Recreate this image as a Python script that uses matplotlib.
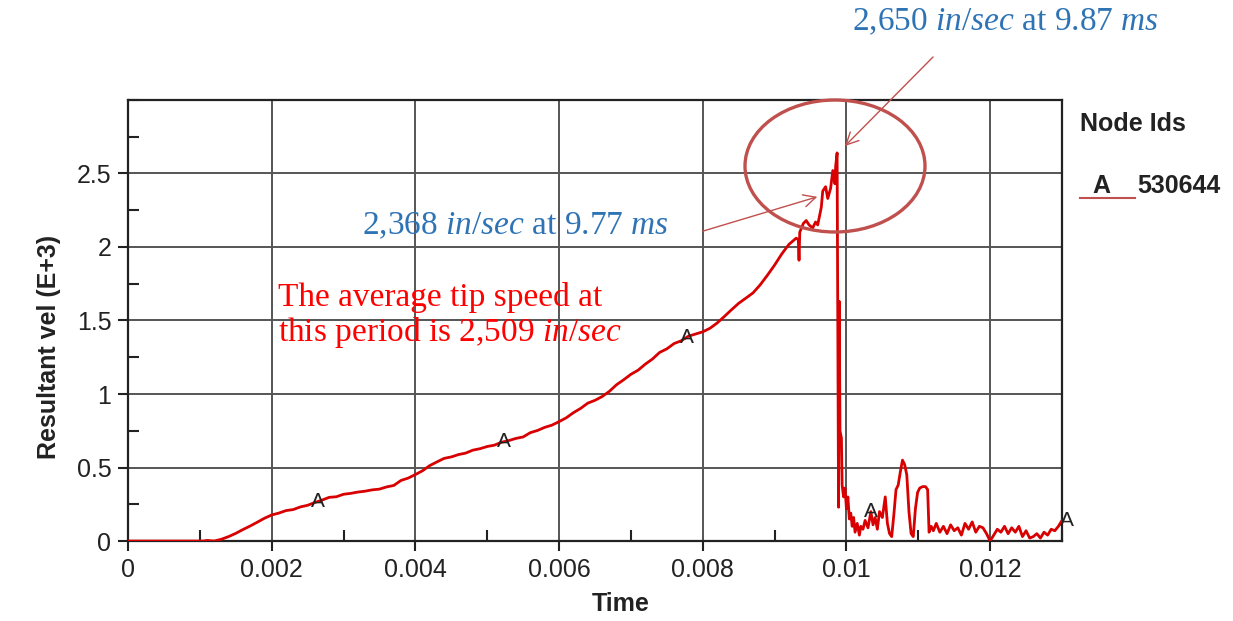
import numpy as np
import matplotlib
matplotlib.use("Agg")
import matplotlib.pyplot as plt
from matplotlib.patches import Ellipse, FancyArrowPatch
from matplotlib.lines import Line2D
from matplotlib.ticker import MultipleLocator

# ==============================================================
# Datos (tiempo en s, velocidad en E+3 in/sec)
# ==============================================================
time_rise = [0.0, 0.00105, 0.0011, 0.0012, 0.0013, 0.0014, 0.0015, 0.0016, 0.0017,
             0.0018, 0.0019, 0.0020, 0.0021, 0.0022, 0.0023, 0.0024, 0.0025, 0.0026,
             0.0027, 0.0028, 0.0029, 0.0030, 0.0031, 0.0032, 0.0033, 0.0034, 0.0035,
             0.0036, 0.0037, 0.0038, 0.0039, 0.0040, 0.0041, 0.0042, 0.0043, 0.0044,
             0.0045, 0.0046, 0.0047, 0.0048, 0.0049, 0.0050, 0.0051, 0.0052, 0.0053,
             0.0054, 0.0055, 0.0056, 0.0057, 0.0058, 0.0059, 0.0060, 0.0061, 0.0062,
             0.0063, 0.0064, 0.0065, 0.0066, 0.0067, 0.0068, 0.0069, 0.0070, 0.0071,
             0.0072, 0.0073, 0.0074, 0.0075, 0.0076, 0.0077, 0.0078, 0.0079, 0.0080,
             0.0081, 0.0082, 0.0083, 0.0084, 0.0085, 0.0086, 0.0087, 0.0088, 0.0089,
             0.0090, 0.0091, 0.0092, 0.00930, 0.00933, 0.00934, 0.00935, 0.00940,
             0.00944, 0.00948, 0.00953, 0.00957, 0.00960, 0.00965, 0.00967, 0.00971,
             0.00974, 0.00978, 0.00981, 0.00984, 0.00985, 0.00987]
vel_rise = [0.0, 0.0, 0.004, 0.0, 0.012, 0.03, 0.052, 0.078, 0.102,
            0.128, 0.155, 0.177, 0.19, 0.207, 0.214, 0.232, 0.243, 0.262,
            0.278, 0.297, 0.301, 0.318, 0.324, 0.333, 0.339, 0.348, 0.353,
            0.368, 0.378, 0.412, 0.428, 0.452, 0.478, 0.513, 0.538, 0.562,
            0.572, 0.588, 0.598, 0.618, 0.628, 0.643, 0.652, 0.672, 0.683,
            0.698, 0.708, 0.737, 0.752, 0.773, 0.788, 0.812, 0.838, 0.873,
            0.902, 0.938, 0.957, 0.983, 1.018, 1.063, 1.097, 1.134, 1.162,
            1.203, 1.238, 1.283, 1.307, 1.343, 1.362, 1.393, 1.408, 1.423,
            1.447, 1.483, 1.527, 1.573, 1.617, 1.652, 1.688, 1.743, 1.808,
            1.877, 1.953, 2.018, 2.06, 2.05, 1.91, 2.10, 2.16,
            2.18, 2.15, 2.13, 2.17, 2.15, 2.27, 2.38, 2.41,
            2.33, 2.40, 2.52, 2.43, 2.55, 2.64]

time_after = [0.00989, 0.00990, 0.00991, 0.00993, 0.00994, 0.00996, 0.00998, 0.01000,
              0.01002, 0.01004, 0.01006, 0.01008, 0.01010, 0.01012, 0.01015, 0.01018,
              0.01020, 0.01023, 0.01026, 0.01030, 0.01034, 0.01037, 0.01040, 0.01043,
              0.01046, 0.01050, 0.01054, 0.01057, 0.01060, 0.01063, 0.01066, 0.01069,
              0.01072, 0.01075, 0.01078, 0.01081, 0.01084, 0.01087, 0.01090, 0.01093,
              0.01096, 0.01099, 0.01102, 0.01106, 0.01110, 0.01113, 0.01115, 0.01118,
              0.01121, 0.01125, 0.01130, 0.01135, 0.01140, 0.01145, 0.01150, 0.01155,
              0.01160, 0.01165, 0.01170, 0.01175, 0.01180, 0.01185, 0.01190, 0.01195,
              0.01200, 0.01205, 0.01210, 0.01215, 0.01220, 0.01225, 0.01230, 0.01235,
              0.01240, 0.01245, 0.01250, 0.01255, 0.01260, 0.01265, 0.01270, 0.01275,
              0.01280, 0.01285, 0.01290, 0.01295, 0.01300]
vel_after = [0.23, 1.63, 0.75, 0.70, 0.38, 0.30, 0.36, 0.22,
             0.30, 0.15, 0.19, 0.10, 0.16, 0.06, 0.12, 0.04,
             0.10, 0.08, 0.14, 0.09, 0.20, 0.11, 0.16, 0.08,
             0.20, 0.16, 0.30, 0.12, 0.05, 0.03, 0.18, 0.35,
             0.38, 0.47, 0.55, 0.52, 0.45, 0.20, 0.05, 0.03,
             0.22, 0.33, 0.36, 0.37, 0.37, 0.35, 0.06, 0.10,
             0.07, 0.12, 0.06, 0.10, 0.05, 0.11, 0.07, 0.09,
             0.04, 0.12, 0.08, 0.13, 0.06, 0.10, 0.09, 0.05,
             0.00, 0.04, 0.08, 0.06, 0.10, 0.05, 0.09, 0.06,
             0.10, 0.03, 0.07, 0.02, 0.03, 0.05, 0.02, 0.06,
             0.04, 0.08, 0.07, 0.10, 0.14]

time = np.array(time_rise + time_after)
vel = np.array(vel_rise + vel_after)

marker_times = [0.00265, 0.00523, 0.00778, 0.01034, 0.01307]
x_ticks = [0, 0.002, 0.004, 0.006, 0.008, 0.010, 0.012]
x_labels = ["0", "0.002", "0.004", "0.006", "0.008", "0.01", "0.012"]
y_ticks = [0, 0.5, 1.0, 1.5, 2.0, 2.5]
y_labels = ["0", "0.5", "1", "1.5", "2", "2.5"]

node_id = "530644"
note_peak = "2,650 $\\mathit{in/sec}$ at 9.87 $\\mathit{ms}$"
note_prev = "2,368 $\\mathit{in/sec}$ at 9.77 $\\mathit{ms}$"
note_avg = "The average tip speed at\nthis period is 2,509 $\\mathit{in/sec}$"

# ==============================================================
# Estilo
# ==============================================================
plt.rcParams['font.family'] = ['Liberation Sans', 'DejaVu Sans']
plt.rcParams['mathtext.fontset'] = 'custom'
plt.rcParams['mathtext.rm'] = 'Liberation Serif'
plt.rcParams['mathtext.it'] = 'Liberation Serif:italic'

red_line = '#D80000'
note_red = '#C0504D'
blue = '#2E74B5'
ink = '#222222'

fig = plt.figure(figsize=(12.33, 6.21), dpi=100)
ax = fig.add_axes([0.1038, 0.1288, 0.7575, 0.7102])

ax.plot(time, vel, color=red_line, lw=2.0, zorder=3)

# letras "A" sobre la curva
for t in marker_times:
    ax.text(t, np.interp(t, time, vel), "A", fontsize=15, color=ink,
            ha='center', va='center', zorder=4)

ax.set_xlim(0, 0.013)
ax.set_ylim(0, 3.0)
ax.set_xticks(x_ticks)
ax.set_xticklabels(x_labels)
ax.set_yticks(y_ticks)
ax.set_yticklabels(y_labels)
ax.xaxis.set_minor_locator(MultipleLocator(0.001))
ax.yaxis.set_minor_locator(MultipleLocator(0.25))
ax.tick_params(which='major', direction='out', length=7, width=1.5,
               labelsize=18, pad=5, colors=ink)
ax.tick_params(which='minor', direction='in', length=8, width=1.5, colors=ink)
ax.grid(True, which='major', color='#555555', lw=1.4)
for s in ax.spines.values():
    s.set_linewidth(1.6)
    s.set_color(ink)

ax.set_xlabel("Time", fontsize=18, fontweight='bold', color=ink)
ax.set_ylabel("Resultant vel (E+3)", fontsize=18, fontweight='bold', color=ink)
ax.xaxis.set_label_coords(0.528, -0.115)
ax.yaxis.set_label_coords(-0.072, 0.44)

# ==============================================================
# Leyenda
# ==============================================================
fig.text(0.876, 1 - 124 / 621, "Node Ids", fontsize=18, fontweight='bold', color=ink,
         ha='left', va='center')
fig.add_artist(Line2D([1080 / 1233, 1135 / 1233], [1 - 198 / 621, 1 - 198 / 621],
                      color=note_red, lw=1.5, transform=fig.transFigure))
fig.text(1101 / 1233, 1 - 186 / 621, "A", fontsize=18, fontweight='bold',
         color=ink, ha='center', va='center')
fig.text(1137 / 1233, 1 - 186 / 621, node_id, fontsize=18, fontweight='bold',
         color=ink, ha='left', va='center')

# ==============================================================
# Anotaciones
# ==============================================================
fig.add_artist(Ellipse((835 / 1233, 1 - 166 / 621), 180 / 1233, 132 / 621,
                       transform=fig.transFigure, fill=False, ec=note_red, lw=2.4))

fig.add_artist(FancyArrowPatch((935 / 1233, 1 - 55 / 621), (843 / 1233, 1 - 148 / 621),
                               transform=fig.transFigure, arrowstyle='->',
                               mutation_scale=22, color=note_red, lw=1.0))
fig.add_artist(FancyArrowPatch((700 / 1233, 1 - 232 / 621), (820 / 1233, 1 - 196 / 621),
                               transform=fig.transFigure, arrowstyle='->',
                               mutation_scale=22, color=note_red, lw=1.0))

fig.text(852 / 1233, 1 - 22 / 621, note_peak, fontsize=24, color=blue,
         family='Liberation Serif', ha='left', va='center')
fig.text(362 / 1233, 1 - 226 / 621, note_prev, fontsize=24, color=blue,
         family='Liberation Serif', ha='left', va='center')
fig.text(278 / 1233, 1 - 316 / 621, note_avg, fontsize=24, color='#FF0000',
         family='Liberation Serif', ha='left', va='center', linespacing=1.05)

fig.savefig("out.png", dpi=100)
